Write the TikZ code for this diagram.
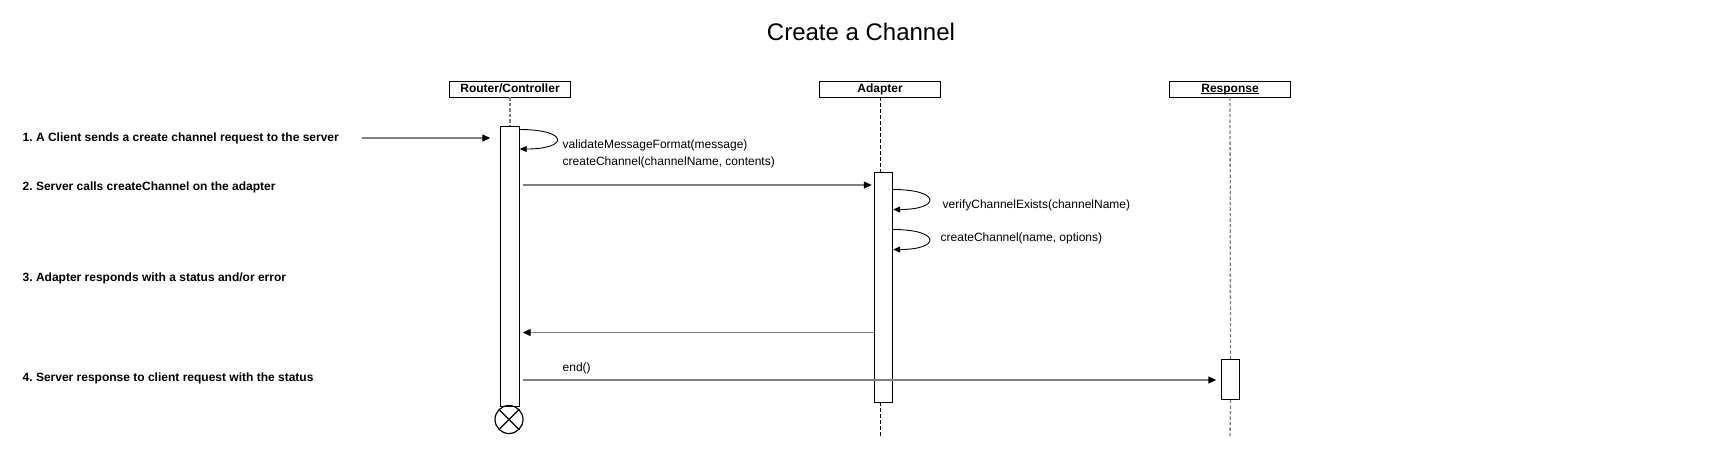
\documentclass[tikz,border=0pt]{standalone}
\usepackage{fontspec}
\setmainfont{Liberation Sans}
\usetikzlibrary{arrows.meta}
\definecolor{msggray}{HTML}{808080}
\frenchspacing
\newcommand{\ulabel}[1]{\setbox0\hbox{#1}\rlap{\rule[-1.7pt]{\wd0}{0.8pt}}\box0}
\begin{document}
\begin{tikzpicture}[x=1pt,y=-1pt,
  hdr/.style={draw=black,line width=0.9pt,fill=white,minimum width=121pt,minimum height=16pt,inner sep=0pt,text height=8.8pt,text depth=2.6pt,font=\fontsize{12}{14}\selectfont\bfseries},
  act/.style={draw=black,line width=0.9pt,fill=white,minimum width=18.5pt,inner sep=0pt},
  lifegray/.style={draw=msggray,line width=1.3pt,dash pattern=on 3.5pt off 2pt},
  lifeblack/.style={draw=black,line width=0.8pt,dash pattern=on 3.5pt off 2.5pt},
  msg/.style={draw=msggray,line width=1.3pt,-{Triangle[length=8pt,width=7pt,color=black]}},
  selfmsg/.style={draw=black,line width=0.9pt,-{Triangle[length=7pt,width=6pt,color=black]}},
  steptext/.style={anchor=base west,inner sep=0pt,font=\fontsize{12}{14}\selectfont\bfseries},
  lbl/.style={anchor=base west,inner sep=0pt,font=\fontsize{12}{14}\selectfont},
]
\useasboundingbox (0,0) rectangle (1718,459);
\fill[white] (0,0) rectangle (1718,459);

% title
\node[anchor=base,inner sep=0pt,font=\fontsize{24}{28}\selectfont] (title) at (861,40) {Create a Channel};

% headers
\node[hdr] (rc) at (510,89) {Router/Controller};
\node[hdr] (ad) at (880,89) {Adapter};
\node[hdr] (rs) at (1230,89) {\ulabel{Response}};

% activations
\node[act,minimum height=280pt] (ra) at (510,266) {};
\node[act,minimum height=230pt] (aa) at (883.5,287) {};
\node[act,minimum height=40pt] (rsa) at (1230.5,379.5) {};

% destroy marker
\node[draw=black,line width=1.2pt,circle,minimum size=28pt,inner sep=0pt] (x) at (509,419.5) {};
\draw[line width=1.2pt] (x.north east) -- (x.south west) (x.north west) -- (x.south east);

% lifelines
\coordinate (adend) at (880,438);
\coordinate (rsend) at (1230,438);
\draw[lifegray] (rc.south) -- (ra.north);
\draw[lifeblack] (ad.south) -- (ad.south |- aa.north);
\draw[lifeblack] (ad.south |- aa.south) -- (adend);
\draw[lifegray] (rs.south) -- (rsa.north);
\draw[lifegray] (rsa.south) -- (rsend);

% step texts
\node[steptext] (s1) at (22.5,141.3) {1. A Client sends a create channel request to the server};
\node[steptext] (s2) at (22.5,190.5) {2. Server calls createChannel on the adapter};
\node[steptext] (s3) at (22.5,281) {3. Adapter responds with a status and/or error};
\node[steptext] (s4) at (22.5,381) {4. Server response to client request with the status};

% messages
\coordinate (c1) at (361.6,138);
\draw[msg,shorten >=10pt] (c1) -- (ra.west |- c1);

\draw[selfmsg] (ra.east |- 0,129.5) .. controls (569,129.5) and (569,149) .. (ra.east |- 0,149);
\node[lbl] (l1) at (562.5,148) {validateMessageFormat(message)};
\node[lbl] (l2) at (562.5,165) {createChannel(channelName, contents)};

\draw[msg,shorten <=3pt,shorten >=2pt] (ra.east |- 0,185) -- (aa.west |- 0,185);

\draw[selfmsg] (aa.east |- 0,189.5) .. controls (941,189.5) and (941,209.5) .. (aa.east |- 0,209.5);
\node[lbl] (l3) at (942.5,208) {verifyChannelExists(channelName)};

\draw[selfmsg] (aa.east |- 0,229.5) .. controls (941,229.5) and (941,249.5) .. (aa.east |- 0,249.5);
\node[lbl] (l4) at (940.5,241.5) {createChannel(name, options)};

\draw[msg,shorten >=3pt] (aa.west |- 0,332.5) -- (ra.east |- 0,332.5);

\node[lbl] (l5) at (562.5,371) {end()};
\draw[msg,shorten <=3pt,shorten >=4.5pt] (ra.east |- 0,380) -- (rsa.west |- 0,380);
\end{tikzpicture}
\end{document}
